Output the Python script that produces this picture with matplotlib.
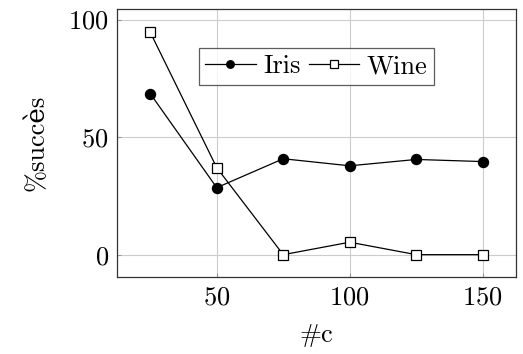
import numpy as np
import matplotlib.pyplot as plt

# data
c_values = [25, 50, 75, 100, 125, 150]
iris = [68.5, 28.5, 40.8, 37.8, 40.5, 39.6]
wine = [94.6, 37.0, 0.0, 5.3, 0.0, 0.0]

plt.rcParams['font.family'] = ['cmr10', 'DejaVu Serif']
plt.rcParams['mathtext.fontset'] = 'cm'
plt.rcParams['axes.formatter.use_mathtext'] = True

fig = plt.figure(figsize=(5.23, 3.54), dpi=100)
ax = fig.add_axes([117/523, 77/354, 399/523, 268/354])

ax.plot(c_values, iris, 'k-', marker='o', ms=7.2, lw=0.9, label='Iris')
ax.plot(c_values, wine, 'k-', marker='s', ms=7.5, mfc='white', mec='black',
        mew=0.9, lw=0.9, label='Wine')

ax.set_xlim(12.5, 162.5)
ax.set_ylim(-9.5, 104.5)
ax.set_xticks([50, 100, 150])
ax.set_yticks([0, 50, 100])
ax.grid(True, color='#cccccc', lw=0.8)
ax.set_axisbelow(True)
ax.tick_params(direction='in', length=3, color='#999999', labelsize=19, pad=6)
for s in ax.spines.values():
    s.set_color('#333333')
    s.set_linewidth(0.9)

ax.set_xlabel('#c', fontsize=19, labelpad=10)
ax.set_ylabel('%succès', fontsize=19, labelpad=14)

leg = ax.legend(loc='center', bbox_to_anchor=(0.5, 0.785), ncol=2, fontsize=19,
                frameon=True, fancybox=False, edgecolor='#333333',
                handlelength=1.9, handletextpad=0.3, columnspacing=0.3,
                borderpad=0.25, markerscale=0.75)
leg.get_frame().set_linewidth(0.9)

plt.savefig('out.png', dpi=100)
